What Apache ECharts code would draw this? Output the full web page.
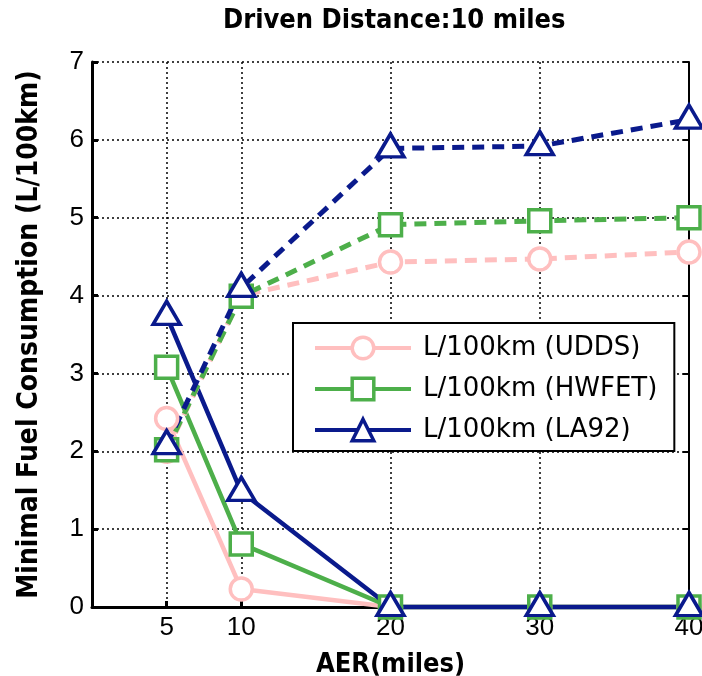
<!DOCTYPE html>
<html>
<head>
<meta charset="utf-8">
<script src="https://cdn.jsdelivr.net/npm/echarts@6/dist/echarts.min.js"></script>
<style>html,body{margin:0;padding:0;background:#fff}#c{width:702px;height:676px}</style>
</head>
<body>
<div id="c"></div>
<script>
const xValues = [5, 10, 20, 30, 40];
const xTicks = [5, 10, 20, 30, 40];
const uddsSolid = [2.42, 0.23, 0, 0, 0];
const hwfetSolid = [3.08, 0.81, 0, 0, 0];
const la92Solid = [3.74, 1.48, 0, 0, 0];
const uddsDash = [2.0, 4.0, 4.43, 4.47, 4.56];
const hwfetDash = [2.02, 3.99, 4.91, 4.96, 5.0];
const la92Dash = [2.08, 4.1, 5.89, 5.92, 6.26];
const names = ['L/100km (UDDS)', 'L/100km (HWFET)', 'L/100km (LA92)'];

const PINK = '#ffbfbf', GREEN = '#4daf4a', BLUE = '#0a1a8c';
const pair = arr => xValues.map((x, i) => [x, arr[i]]);
const tickFont = 'Liberation Sans';
const legendFont = 'DejaVu Sans';
const boldFont = '"DejaVu Sans Condensed", "Liberation Sans"';

function mk(name, data, color, symbol, size, dashed, offset) {
  return {
    name: name, type: 'line', data: pair(data),
    symbol: symbol, symbolSize: size, showSymbol: true,
    symbolOffset: offset || [0, 0],
    lineStyle: { color: color, width: dashed ? 5 : 4.5, type: dashed ? [12, 8] : 'solid' },
    itemStyle: { color: '#fff', borderColor: color, borderWidth: 3.5 },
    emphasis: { disabled: true }, animation: false, clip: false
  };
}

const chart = echarts.init(document.getElementById('c'));
chart.setOption({
  backgroundColor: '#fff',
  animation: false,
  title: {
    text: 'Driven Distance:10 miles', left: 218, top: 2,
    textStyle: { fontFamily: boldFont, fontWeight: 'bold', fontSize: 27, color: '#000' }
  },
  grid: { left: 92, right: 13, top: 62, bottom: 69, containLabel: false, outerBoundsMode: 'none' },
  legend: {
    data: names, orient: 'vertical', left: 293, top: 323,
    itemWidth: 96, itemHeight: 27, itemGap: 15,
    padding: [12, 17, 8, 20],
    borderColor: '#000', borderWidth: 2, backgroundColor: '#fff',
    lineStyle: { width: 4 },
    itemStyle: { borderWidth: 3.5 },
    textStyle: { fontFamily: legendFont, fontSize: 26, color: '#000', padding: [0, 0, 0, 7] }
  },
  xAxis: {
    type: 'value', min: 0, max: 40,
    name: 'AER(miles)', nameLocation: 'middle', nameGap: 44,
    nameTextStyle: { fontFamily: boldFont, fontWeight: 'bold', fontSize: 27, color: '#000' },
    axisLine: { show: true, onZero: false, lineStyle: { color: '#000', width: 3 } },
    axisTick: { show: true, inside: true, length: 6, customValues: xTicks, lineStyle: { color: '#000', width: 3 } },
    axisLabel: { customValues: xTicks, fontFamily: tickFont, fontSize: 26, color: '#000', margin: 8 },
    splitLine: { show: true, lineStyle: { color: '#000', width: 1.5, type: [2, 3] } }
  },
  yAxis: [{
    type: 'value', min: 0, max: 7, interval: 1,
    name: 'Minimal Fuel Consumption (L/100km)', nameLocation: 'middle', nameGap: 48,
    nameTextStyle: { fontFamily: boldFont, fontWeight: 'bold', fontSize: 28, color: '#000' },
    axisLine: { show: true, lineStyle: { color: '#000', width: 3 } },
    axisTick: { show: true, inside: true, length: 6, lineStyle: { color: '#000', width: 3 } },
    axisLabel: { fontFamily: tickFont, fontSize: 26, color: '#000', margin: 8 },
    splitLine: { show: true, lineStyle: { color: '#000', width: 1.5, type: [2, 3] } }
  }, {
    type: 'value', min: 0, max: 7, interval: 1, position: 'right',
    axisLine: { show: true, lineStyle: { color: '#000', width: 2 } },
    axisTick: { show: true, inside: true, length: 6, lineStyle: { color: '#000', width: 2 } },
    axisLabel: { show: false }, splitLine: { show: false }
  }],
  series: [
    mk(names[0], uddsSolid, PINK, 'circle', 22, false),
    mk(names[1], hwfetSolid, GREEN, 'rect', 22, false),
    mk(names[2], la92Solid, BLUE, 'triangle', [27, 23], false, [0, -3]),
    mk('UDDS dashed', uddsDash, PINK, 'circle', 22, true),
    mk('HWFET dashed', hwfetDash, GREEN, 'rect', 22, true),
    mk('LA92 dashed', la92Dash, BLUE, 'triangle', [27, 23], true, [0, -3])
  ]
});
</script>
</body>
</html>
